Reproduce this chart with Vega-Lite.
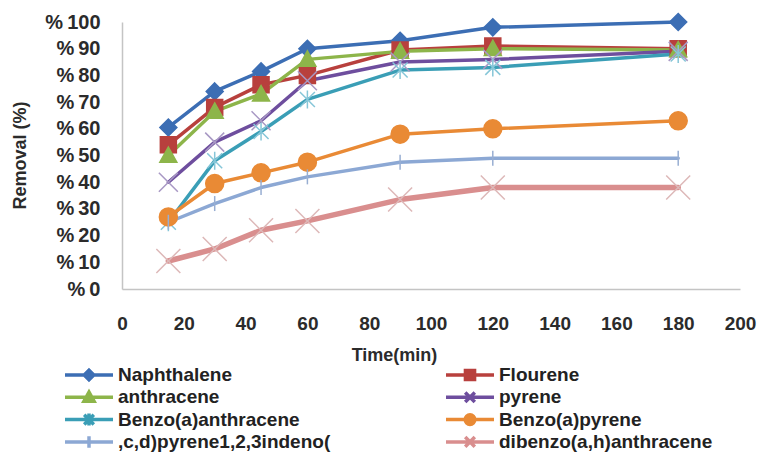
{
  "$schema": "https://vega.github.io/schema/vega-lite/v6.json",
  "width": 618,
  "height": 267,
  "autosize": {"type": "none"},
  "padding": {"left": 122, "top": 22, "right": 21, "bottom": 170},
  "background": "white",
  "config": {"view": {"stroke": null}, "font": "Liberation Sans"},
  "data": {"values": [
    {"series": "Naphthalene", "time": 15, "removal": 60.5},
    {"series": "Naphthalene", "time": 30, "removal": 74},
    {"series": "Naphthalene", "time": 45, "removal": 81.5},
    {"series": "Naphthalene", "time": 60, "removal": 90},
    {"series": "Naphthalene", "time": 90, "removal": 93},
    {"series": "Naphthalene", "time": 120, "removal": 98},
    {"series": "Naphthalene", "time": 180, "removal": 100},
    {"series": "Flourene", "time": 15, "removal": 54},
    {"series": "Flourene", "time": 30, "removal": 68},
    {"series": "Flourene", "time": 45, "removal": 76.5},
    {"series": "Flourene", "time": 60, "removal": 80},
    {"series": "Flourene", "time": 90, "removal": 89.5},
    {"series": "Flourene", "time": 120, "removal": 91},
    {"series": "Flourene", "time": 180, "removal": 90},
    {"series": "anthracene", "time": 15, "removal": 50},
    {"series": "anthracene", "time": 30, "removal": 66.5},
    {"series": "anthracene", "time": 45, "removal": 73},
    {"series": "anthracene", "time": 60, "removal": 86},
    {"series": "anthracene", "time": 90, "removal": 89},
    {"series": "anthracene", "time": 120, "removal": 90},
    {"series": "anthracene", "time": 180, "removal": 89.5},
    {"series": "pyrene", "time": 15, "removal": 40},
    {"series": "pyrene", "time": 30, "removal": 55},
    {"series": "pyrene", "time": 45, "removal": 63},
    {"series": "pyrene", "time": 60, "removal": 78},
    {"series": "pyrene", "time": 90, "removal": 85},
    {"series": "pyrene", "time": 120, "removal": 86},
    {"series": "pyrene", "time": 180, "removal": 89},
    {"series": "Benzo(a)anthracene", "time": 15, "removal": 25},
    {"series": "Benzo(a)anthracene", "time": 30, "removal": 48},
    {"series": "Benzo(a)anthracene", "time": 45, "removal": 59},
    {"series": "Benzo(a)anthracene", "time": 60, "removal": 71},
    {"series": "Benzo(a)anthracene", "time": 90, "removal": 82},
    {"series": "Benzo(a)anthracene", "time": 120, "removal": 83},
    {"series": "Benzo(a)anthracene", "time": 180, "removal": 88},
    {"series": "Benzo(a)pyrene", "time": 15, "removal": 27},
    {"series": "Benzo(a)pyrene", "time": 30, "removal": 39.5},
    {"series": "Benzo(a)pyrene", "time": 45, "removal": 43.5},
    {"series": "Benzo(a)pyrene", "time": 60, "removal": 47.5},
    {"series": "Benzo(a)pyrene", "time": 90, "removal": 58},
    {"series": "Benzo(a)pyrene", "time": 120, "removal": 60},
    {"series": "Benzo(a)pyrene", "time": 180, "removal": 63},
    {"series": ",c,d)pyrene1,2,3indeno(", "time": 15, "removal": 25},
    {"series": ",c,d)pyrene1,2,3indeno(", "time": 30, "removal": 32},
    {"series": ",c,d)pyrene1,2,3indeno(", "time": 45, "removal": 38},
    {"series": ",c,d)pyrene1,2,3indeno(", "time": 60, "removal": 42},
    {"series": ",c,d)pyrene1,2,3indeno(", "time": 90, "removal": 47.5},
    {"series": ",c,d)pyrene1,2,3indeno(", "time": 120, "removal": 49},
    {"series": ",c,d)pyrene1,2,3indeno(", "time": 180, "removal": 49},
    {"series": "dibenzo(a,h)anthracene", "time": 15, "removal": 10.5},
    {"series": "dibenzo(a,h)anthracene", "time": 30, "removal": 15},
    {"series": "dibenzo(a,h)anthracene", "time": 45, "removal": 22},
    {"series": "dibenzo(a,h)anthracene", "time": 60, "removal": 25.5},
    {"series": "dibenzo(a,h)anthracene", "time": 90, "removal": 33.5},
    {"series": "dibenzo(a,h)anthracene", "time": 120, "removal": 38},
    {"series": "dibenzo(a,h)anthracene", "time": 180, "removal": 38}
  ]},
  "encoding": {
    "x": {
      "field": "time", "type": "quantitative",
      "scale": {"domain": [0, 200], "nice": false, "zero": false},
      "axis": {
        "title": "Time(min)",
        "values": [0, 20, 40, 60, 80, 100, 120, 140, 160, 180, 200],
        "format": "d",
        "grid": false, "ticks": false, "tickSize": 0,
        "domainColor": "#C4C4C4", "domainWidth": 1.5,
        "labelFont": "Liberation Sans", "labelFontSize": 19, "labelFontWeight": "bold", "labelColor": "#2b2b2b",
        "labelPadding": 34, "labelBaseline": "middle", "labelFlush": false, "labelOverlap": false,
        "titleFont": "Liberation Sans", "titleFontSize": 18, "titleFontWeight": "bold", "titleColor": "#2b2b2b",
        "titleX": 272, "titleY": 66, "titleAlign": "center", "titleBaseline": "middle"
      }
    },
    "y": {
      "field": "removal", "type": "quantitative",
      "scale": {"domain": [0, 100], "nice": false},
      "axis": {
        "title": "Removal (%)",
        "values": [0, 10, 20, 30, 40, 50, 60, 70, 80, 90, 100],
        "labelExpr": "'%\u2009' + datum.value",
        "grid": false, "ticks": false, "tickSize": 0,
        "domainColor": "#C4C4C4", "domainWidth": 1.5,
        "labelFont": "Liberation Sans", "labelFontSize": 20, "labelFontWeight": "bold", "labelColor": "#2b2b2b",
        "labelPadding": 22, "labelFlush": false, "labelOverlap": false,
        "titleFont": "Liberation Sans", "titleFontSize": 18, "titleFontWeight": "bold", "titleColor": "#2b2b2b",
        "titleX": -102, "titleY": 133, "titleAngle": -90, "titleAlign": "center", "titleBaseline": "middle"
      }
    }
  },
  "layer": [
    {
      "mark": {"type": "line", "strokeCap": "round", "strokeJoin": "round"},
      "encoding": {
        "stroke": {
          "field": "series", "type": "nominal", "legend": null,
          "scale": {
            "domain": ["Naphthalene", "Flourene", "anthracene", "pyrene", "Benzo(a)anthracene", "Benzo(a)pyrene", ",c,d)pyrene1,2,3indeno(", "dibenzo(a,h)anthracene"],
            "range": ["#3C6EB4", "#B8403D", "#8DB54A", "#6E4E9E", "#3A9EB6", "#E98A35", "#8CA8D4", "#D98E8E"]
          }
        },
        "strokeWidth": {
          "field": "series", "type": "nominal", "legend": null,
          "scale": {
            "type": "ordinal",
            "domain": ["Naphthalene", "Flourene", "anthracene", "pyrene", "Benzo(a)anthracene", "Benzo(a)pyrene", ",c,d)pyrene1,2,3indeno(", "dibenzo(a,h)anthracene"],
            "range": [3.5, 3.5, 3.5, 3.5, 3.5, 3.5, 3.5, 5.5]
          }
        }
      }
    },
    {
      "mark": {"type": "point", "filled": true, "strokeWidth": 1.5, "opacity": 1},
      "encoding": {
        "fill": {
          "field": "series", "type": "nominal", "legend": null,
          "scale": {
            "domain": ["Naphthalene", "Flourene", "anthracene", "pyrene", "Benzo(a)anthracene", "Benzo(a)pyrene", ",c,d)pyrene1,2,3indeno(", "dibenzo(a,h)anthracene"],
            "range": ["#3C6EB4", "#B8403D", "#8DB54A", "#6E4E9E", "#3A9EB6", "#E98A35", "#8CA8D4", "#D98E8E"]
          }
        },
        "stroke": {
          "field": "series", "type": "nominal", "legend": null,
          "scale": {
            "domain": ["Naphthalene", "Flourene", "anthracene", "pyrene", "Benzo(a)anthracene", "Benzo(a)pyrene", ",c,d)pyrene1,2,3indeno(", "dibenzo(a,h)anthracene"],
            "range": ["#3C6EB4", "#B8403D", "#8DB54A", "#A898C4", "#86C6D8", "#E98A35", "#98AED2", "#DDB8B8"]
          }
        },
        "shape": {
          "field": "series", "type": "nominal", "legend": null,
          "scale": {
            "domain": ["Naphthalene", "Flourene", "anthracene", "pyrene", "Benzo(a)anthracene", "Benzo(a)pyrene", ",c,d)pyrene1,2,3indeno(", "dibenzo(a,h)anthracene"],
            "range": [
              "M0,-1L1,0L0,1L-1,0Z",
              "M-1,-1H1V1H-1Z",
              "M0,-1L1,0.8H-1Z",
              "M-1,-1L1,1M-1,1L1,-1",
              "M-1,-1L1,1M-1,1L1,-1M0,-1.2V1.2",
              "M-1,0A1,1,0,1,0,1,0A1,1,0,1,0,-1,0Z",
              "M0,-1V1",
              "M-1,-1L1,1M-1,1L1,-1"
            ]
          }
        },
        "size": {
          "field": "series", "type": "nominal", "legend": null,
          "scale": {
            "type": "ordinal",
            "domain": ["Naphthalene", "Flourene", "anthracene", "pyrene", "Benzo(a)anthracene", "Benzo(a)pyrene", ",c,d)pyrene1,2,3indeno(", "dibenzo(a,h)anthracene"],
            "range": [289, 256, 289, 361, 225, 324, 225, 576]
          }
        }
      }
    },
    {
      "transform": [{"filter": "datum.time < 0"}],
      "mark": {"type": "point", "filled": true, "strokeWidth": 3.5, "opacity": 1},
      "encoding": {
        "fill": {
          "field": "series", "type": "nominal",
          "scale": {
            "domain": ["Naphthalene", "Flourene", "anthracene", "pyrene", "Benzo(a)anthracene", "Benzo(a)pyrene", ",c,d)pyrene1,2,3indeno(", "dibenzo(a,h)anthracene"],
            "range": ["#3C6EB4", "#B8403D", "#8DB54A", "#6E4E9E", "#3A9EB6", "#E98A35", "#8CA8D4", "#D98E8E"]
          },
          "legend": {"orient": "none", "direction": "horizontal", "legendX": -59, "legendY": 343, "columns": 2, "columnPadding": 113, "rowPadding": 2.3, "clipHeight": 20, "title": null, "padding": 0, "labelFont": "Liberation Sans", "labelFontSize": 19, "labelFontWeight": "bold", "labelColor": "#222222", "labelOffset": 3, "labelLimit": 400, "symbolSize": 2304, "symbolStrokeWidth": 3.5}
        },
        "stroke": {
          "field": "series", "type": "nominal",
          "scale": {
            "domain": ["Naphthalene", "Flourene", "anthracene", "pyrene", "Benzo(a)anthracene", "Benzo(a)pyrene", ",c,d)pyrene1,2,3indeno(", "dibenzo(a,h)anthracene"],
            "range": ["#3C6EB4", "#B8403D", "#8DB54A", "#6E4E9E", "#3A9EB6", "#E98A35", "#8CA8D4", "#D98E8E"]
          },
          "legend": {"orient": "none", "direction": "horizontal", "legendX": -59, "legendY": 343, "columns": 2, "columnPadding": 113, "rowPadding": 2.3, "clipHeight": 20, "title": null, "padding": 0, "labelFont": "Liberation Sans", "labelFontSize": 19, "labelFontWeight": "bold", "labelColor": "#222222", "labelOffset": 3, "labelLimit": 400, "symbolSize": 2304, "symbolStrokeWidth": 3.5}
        },
        "shape": {
          "field": "series", "type": "nominal",
          "scale": {
            "domain": ["Naphthalene", "Flourene", "anthracene", "pyrene", "Benzo(a)anthracene", "Benzo(a)pyrene", ",c,d)pyrene1,2,3indeno(", "dibenzo(a,h)anthracene"],
            "range": [
              "M-1,0H1M0,-0.2L0.2,0L0,0.2L-0.2,0Z",
              "M-1,0H1M-0.19,-0.19H0.19V0.19H-0.19Z",
              "M-1,0H1M0,-0.22L0.21,0.16H-0.21Z",
              "M-1,0H1M-0.2,-0.2L0.2,0.2M-0.2,0.2L0.2,-0.2",
              "M-1,0H1M-0.2,-0.2L0.2,0.2M-0.2,0.2L0.2,-0.2M0,-0.25V0.25",
              "M-1,0H1M-0.2,0A0.2,0.2,0,1,0,0.2,0A0.2,0.2,0,1,0,-0.2,0Z",
              "M-1,0H1M0,-0.24V0.24",
              "M-1,0H1M-0.2,-0.2L0.2,0.2M-0.2,0.2L0.2,-0.2"
            ]
          },
          "legend": {"orient": "none", "direction": "horizontal", "legendX": -59, "legendY": 343, "columns": 2, "columnPadding": 113, "rowPadding": 2.3, "clipHeight": 20, "title": null, "padding": 0, "labelFont": "Liberation Sans", "labelFontSize": 19, "labelFontWeight": "bold", "labelColor": "#222222", "labelOffset": 3, "labelLimit": 400, "symbolSize": 2304, "symbolStrokeWidth": 3.5}
        }
      }
    }
  ],
  "resolve": {"scale": {"stroke": "independent", "fill": "independent", "shape": "independent", "size": "independent", "strokeWidth": "independent"}}
}
